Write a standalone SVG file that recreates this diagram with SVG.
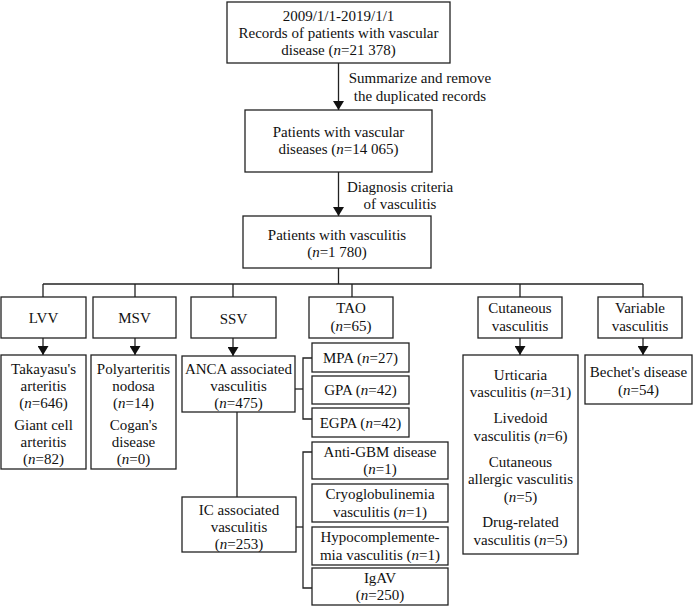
<svg xmlns="http://www.w3.org/2000/svg" width="700" height="607" viewBox="0 0 700 607" font-family="'Liberation Serif', 'Times New Roman', 'DejaVu Serif', serif">
<style>
.b{fill:#fff;stroke:#222;stroke-width:1.3}
.c{fill:none;stroke:#222;stroke-width:1.3}
text{font-family:'Liberation Serif','Times New Roman','DejaVu Serif',serif;font-size:15px;fill:#111;text-anchor:middle}
.i{font-style:italic}
</style>
<defs>
<marker id="ah" markerUnits="userSpaceOnUse" markerWidth="9" markerHeight="11" viewBox="0 0 9 11" refX="9" refY="5.5" orient="auto">
<path d="M0,0 L9,5.5 L0,11 Z" fill="#111"/>
</marker>
</defs>
<rect width="700" height="607" fill="#fff"/>
<g id="connectors">
<line class="c" x1="338.5" y1="63" x2="338.5" y2="110" marker-end="url(#ah)"/>
<line class="c" x1="338.5" y1="172" x2="338.5" y2="216" marker-end="url(#ah)"/>
<polyline class="c" points="338.5,268 338.5,284"/>
<line class="c" x1="43" y1="284" x2="643" y2="284"/>
<line class="c" x1="43" y1="284" x2="43" y2="297"/>
<line class="c" x1="135" y1="284" x2="135" y2="297"/>
<line class="c" x1="233" y1="284" x2="233" y2="297"/>
<line class="c" x1="352" y1="284" x2="352" y2="297"/>
<line class="c" x1="520" y1="284" x2="520" y2="297"/>
<line class="c" x1="643" y1="284" x2="643" y2="297"/>
<line class="c" x1="43" y1="338" x2="43" y2="355" marker-end="url(#ah)"/>
<line class="c" x1="135" y1="338" x2="135" y2="355" marker-end="url(#ah)"/>
<line class="c" x1="233" y1="338" x2="233" y2="356" marker-end="url(#ah)"/>
<line class="c" x1="520" y1="338" x2="520" y2="355" marker-end="url(#ah)"/>
<line class="c" x1="643" y1="338" x2="643" y2="355" marker-end="url(#ah)"/>
<line class="c" x1="237" y1="412" x2="237" y2="497"/>
<line class="c" x1="295" y1="389" x2="303" y2="389"/>
<polyline class="c" points="312,358 303,358 303,419 312,419"/>
<line class="c" x1="296" y1="527" x2="303" y2="527"/>
<polyline class="c" points="312,452 303,452 303,588 312,588"/>
</g>
<g id="n-records">
<rect class="b" x="227" y="2" width="223" height="61"/>
<text x="338.5" y="21">2009/1/1-2019/1/1</text>
<text x="338.5" y="38">Records of patients with vascular</text>
<text x="338.5" y="55">disease (<tspan class="i">n</tspan>=21 378)</text>
</g>
<g id="l-summarize">
<text x="420" y="83">Summarize and remove</text>
<text x="420" y="101">the duplicated records</text>
</g>
<g id="n-vascular">
<rect class="b" x="245" y="110" width="187" height="62"/>
<text x="338.5" y="137">Patients with vascular</text>
<text x="338.5" y="154">diseases (<tspan class="i">n</tspan>=14 065)</text>
</g>
<g id="l-diagnosis">
<text x="400" y="192">Diagnosis criteria</text>
<text x="400" y="209">of vasculitis</text>
</g>
<g id="n-vasculitis">
<rect class="b" x="243" y="216" width="188" height="52"/>
<text x="337" y="240">Patients with vasculitis</text>
<text x="337" y="257">(<tspan class="i">n</tspan>=1 780)</text>
</g>
<g id="n-lvv">
<rect class="b" x="1" y="297" width="85" height="41"/>
<text x="43.5" y="323">LVV</text>
</g>
<g id="n-msv">
<rect class="b" x="93" y="297" width="83" height="41"/>
<text x="134.5" y="323">MSV</text>
</g>
<g id="n-ssv">
<rect class="b" x="191" y="297" width="85" height="41"/>
<text x="233.5" y="324">SSV</text>
</g>
<g id="n-tao">
<rect class="b" x="309" y="297" width="84" height="41"/>
<text x="351" y="313">TAO</text>
<text x="351" y="331">(<tspan class="i">n</tspan>=65)</text>
</g>
<g id="n-cutaneous">
<rect class="b" x="478" y="297" width="84" height="41"/>
<text x="520" y="313">Cutaneous</text>
<text x="520" y="331">vasculitis</text>
</g>
<g id="n-variable">
<rect class="b" x="598" y="297" width="84" height="41"/>
<text x="640" y="313">Variable</text>
<text x="640" y="331">vasculitis</text>
</g>
<g id="n-lvv-list">
<rect class="b" x="1" y="355" width="85" height="114"/>
<text x="43.5" y="374">Takayasu's</text>
<text x="43.5" y="391">arteritis</text>
<text x="43.5" y="408">(<tspan class="i">n</tspan>=646)</text>
<text x="43.5" y="430">Giant cell</text>
<text x="43.5" y="447">arteritis</text>
<text x="43.5" y="464">(<tspan class="i">n</tspan>=82)</text>
</g>
<g id="n-msv-list">
<rect class="b" x="91" y="355" width="85" height="114"/>
<text x="133.5" y="374">Polyarteritis</text>
<text x="133.5" y="391">nodosa</text>
<text x="133.5" y="408">(<tspan class="i">n</tspan>=14)</text>
<text x="133.5" y="430">Cogan's</text>
<text x="133.5" y="447">disease</text>
<text x="133.5" y="464">(<tspan class="i">n</tspan>=0)</text>
</g>
<g id="n-anca">
<rect class="b" x="182" y="356" width="113" height="56"/>
<text x="238.5" y="374">ANCA associated</text>
<text x="238.5" y="391">vasculitis</text>
<text x="238.5" y="408">(<tspan class="i">n</tspan>=475)</text>
</g>
<g id="n-mpa">
<rect class="b" x="312" y="343" width="97" height="29"/>
<text x="360.5" y="363">MPA (<tspan class="i">n</tspan>=27)</text>
</g>
<g id="n-gpa">
<rect class="b" x="312" y="376" width="97" height="28"/>
<text x="360.5" y="395">GPA (<tspan class="i">n</tspan>=42)</text>
</g>
<g id="n-egpa">
<rect class="b" x="312" y="408" width="97" height="29"/>
<text x="360.5" y="428">EGPA (<tspan class="i">n</tspan>=42)</text>
</g>
<g id="n-ic">
<rect class="b" x="182" y="497" width="114" height="55"/>
<text x="239" y="515">IC associated</text>
<text x="239" y="532">vasculitis</text>
<text x="239" y="549">(<tspan class="i">n</tspan>=253)</text>
</g>
<g id="n-antigbm">
<rect class="b" x="312" y="442" width="136" height="37"/>
<text x="380" y="457">Anti-GBM disease</text>
<text x="380" y="474">(<tspan class="i">n</tspan>=1)</text>
</g>
<g id="n-cryo">
<rect class="b" x="312" y="484" width="136" height="38"/>
<text x="380" y="499">Cryoglobulinemia</text>
<text x="380" y="517">vasculitis (<tspan class="i">n</tspan>=1)</text>
</g>
<g id="n-hypo">
<rect class="b" x="312" y="527" width="136" height="38"/>
<text x="380" y="542">Hypocomplemente-</text>
<text x="380" y="560">mia vasculitis (<tspan class="i">n</tspan>=1)</text>
</g>
<g id="n-igav">
<rect class="b" x="312" y="568" width="136" height="37"/>
<text x="380" y="583">IgAV</text>
<text x="380" y="600">(<tspan class="i">n</tspan>=250)</text>
</g>
<g id="n-cutaneous-list">
<rect class="b" x="463" y="355" width="115" height="199"/>
<text x="520.5" y="380">Urticaria</text>
<text x="520.5" y="397">vasculitis (<tspan class="i">n</tspan>=31)</text>
<text x="520.5" y="423">Livedoid</text>
<text x="520.5" y="441">vasculitis (<tspan class="i">n</tspan>=6)</text>
<text x="520.5" y="467">Cutaneous</text>
<text x="520.5" y="484">allergic vasculitis</text>
<text x="520.5" y="502">(<tspan class="i">n</tspan>=5)</text>
<text x="520.5" y="527">Drug-related</text>
<text x="520.5" y="545">vasculitis (<tspan class="i">n</tspan>=5)</text>
</g>
<g id="n-bechet">
<rect class="b" x="585" y="355" width="107" height="49"/>
<text x="638.5" y="377">Bechet's disease</text>
<text x="638.5" y="395">(<tspan class="i">n</tspan>=54)</text>
</g>
</svg>
